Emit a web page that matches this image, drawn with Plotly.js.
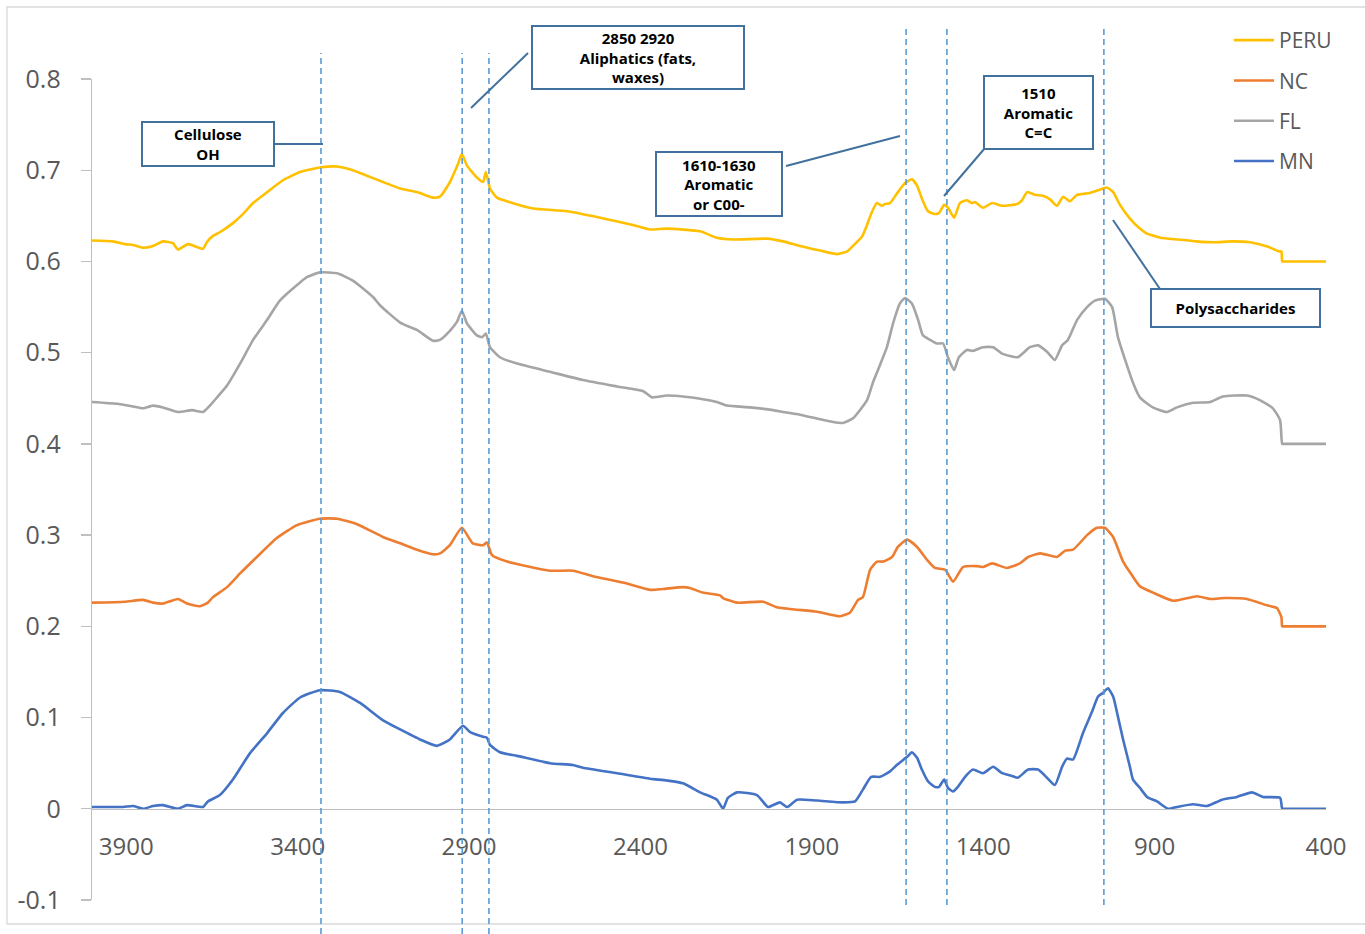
<!DOCTYPE html>
<html>
<head>
<meta charset="utf-8">
<script src="https://cdn.plot.ly/plotly-3.0.1.min.js"></script>
<style>
  html, body { margin: 0; padding: 0; background: #fff; }
  #chart { width: 1365px; height: 934px; }
</style>
</head>
<body>
<div id="chart"></div>
<script>
// FTIR spectra, stacked with vertical offsets (PERU +0.6, FL +0.4, NC +0.2, MN +0)
const peruWn = [4000,3940,3904,3880,3851,3822,3793,3764,3749,3720,3676,3665,3647,3627,3589,3562,3530,3489,3443,3393,3335,3285,3239,3198,3151,3101,3052,3005,2985,2956,2932,2921,2906,2877,2859,2851,2839,2819,2781,2713,2614,2518,2422,2372,2323,2226,2177,2130,2031,1984,1935,1876,1827,1797,1780,1754,1739,1725,1710,1695,1687,1672,1649,1628,1608,1593,1579,1561,1541,1529,1514,1503,1485,1468,1447,1433,1424,1401,1374,1345,1301,1287,1272,1249,1226,1205,1185,1167,1147,1126,1089,1065,1039,1021,1001,972,943,925,884,832,779,727,674,622,569,537,530,528,525,400];
const peruAbs = [0.623,0.622,0.619,0.618,0.615,0.617,0.622,0.620,0.613,0.619,0.614,0.621,0.628,0.632,0.642,0.651,0.664,0.676,0.689,0.698,0.703,0.704,0.700,0.694,0.687,0.680,0.676,0.670,0.671,0.687,0.707,0.718,0.705,0.692,0.687,0.698,0.680,0.670,0.665,0.658,0.655,0.648,0.640,0.635,0.636,0.633,0.626,0.624,0.625,0.622,0.617,0.612,0.608,0.611,0.617,0.627,0.640,0.654,0.664,0.661,0.663,0.664,0.676,0.686,0.690,0.683,0.669,0.655,0.652,0.653,0.662,0.659,0.648,0.664,0.667,0.664,0.665,0.659,0.664,0.661,0.663,0.667,0.676,0.673,0.672,0.668,0.661,0.671,0.666,0.673,0.675,0.678,0.681,0.676,0.662,0.647,0.636,0.631,0.626,0.624,0.622,0.621,0.622,0.621,0.616,0.611,0.611,0.600,0.600,0.600];

const ncWn = [4000,3904,3851,3822,3793,3749,3723,3685,3662,3647,3606,3568,3519,3460,3402,3335,3285,3227,3151,3101,3052,3005,2985,2956,2921,2889,2859,2848,2833,2789,2664,2597,2538,2451,2372,2334,2276,2256,2218,2168,2159,2118,2042,2002,1885,1818,1789,1765,1751,1730,1710,1692,1666,1649,1622,1593,1564,1541,1511,1488,1459,1418,1401,1374,1331,1293,1269,1234,1185,1161,1138,1097,1068,1045,1021,992,966,943,905,846,776,738,695,631,572,543,530,528,525,400];
const ncAbs = [0.226,0.227,0.229,0.226,0.225,0.230,0.225,0.222,0.226,0.232,0.243,0.258,0.276,0.297,0.311,0.318,0.318,0.312,0.298,0.291,0.284,0.279,0.280,0.289,0.308,0.291,0.289,0.292,0.278,0.271,0.261,0.261,0.255,0.248,0.240,0.241,0.243,0.242,0.237,0.234,0.231,0.226,0.227,0.221,0.216,0.211,0.215,0.229,0.232,0.262,0.271,0.271,0.276,0.287,0.295,0.287,0.273,0.264,0.262,0.249,0.265,0.266,0.265,0.269,0.264,0.269,0.276,0.280,0.276,0.283,0.284,0.300,0.308,0.308,0.298,0.271,0.256,0.244,0.237,0.228,0.233,0.230,0.231,0.230,0.223,0.220,0.210,0.200,0.200,0.200];

const flWn = [4000,3927,3880,3851,3822,3793,3749,3708,3676,3656,3635,3606,3568,3530,3489,3452,3393,3372,3335,3285,3239,3180,3160,3101,3072,3052,3005,2985,2956,2935,2921,2906,2877,2862,2851,2839,2810,2760,2664,2568,2468,2393,2366,2323,2276,2218,2177,2148,2080,2013,1984,1935,1838,1809,1780,1739,1722,1707,1681,1663,1643,1628,1608,1590,1576,1555,1535,1517,1503,1485,1471,1447,1430,1401,1371,1345,1299,1264,1240,1214,1191,1170,1153,1126,1097,1074,1045,1024,1007,986,963,943,905,864,835,788,738,701,631,593,555,534,528,525,400];
const flAbs = [0.446,0.444,0.441,0.439,0.442,0.440,0.435,0.437,0.435,0.442,0.451,0.464,0.488,0.514,0.536,0.557,0.577,0.583,0.588,0.587,0.579,0.561,0.552,0.533,0.528,0.525,0.513,0.514,0.524,0.534,0.546,0.532,0.519,0.517,0.521,0.506,0.495,0.488,0.479,0.470,0.463,0.458,0.451,0.453,0.452,0.449,0.446,0.442,0.440,0.437,0.435,0.432,0.424,0.423,0.428,0.448,0.467,0.481,0.506,0.532,0.554,0.560,0.554,0.536,0.519,0.514,0.510,0.510,0.495,0.481,0.495,0.503,0.502,0.506,0.506,0.499,0.495,0.506,0.508,0.501,0.492,0.508,0.514,0.536,0.550,0.557,0.559,0.550,0.517,0.492,0.467,0.451,0.440,0.435,0.440,0.445,0.446,0.452,0.453,0.448,0.439,0.426,0.400,0.400,0.400];

const mnWn = [4000,3910,3880,3851,3822,3793,3749,3723,3676,3662,3627,3589,3539,3489,3443,3393,3335,3277,3218,3151,3101,3043,2994,2956,2918,2897,2859,2848,2839,2810,2760,2664,2597,2568,2468,2372,2323,2276,2226,2177,2159,2145,2118,2060,2028,1993,1972,1943,1885,1809,1774,1751,1727,1701,1672,1652,1622,1608,1593,1579,1561,1541,1529,1514,1503,1488,1474,1453,1430,1401,1371,1345,1316,1299,1269,1240,1214,1191,1170,1156,1138,1109,1083,1065,1051,1036,1021,1007,992,972,963,943,922,893,861,835,788,747,703,660,616,584,534,528,525,400];
const mnAbs = [0.002,0.002,0.003,0.000,0.003,0.004,0.000,0.004,0.002,0.008,0.015,0.032,0.061,0.083,0.105,0.122,0.130,0.128,0.116,0.097,0.087,0.076,0.069,0.076,0.091,0.084,0.079,0.078,0.070,0.062,0.058,0.050,0.048,0.045,0.039,0.033,0.031,0.028,0.018,0.010,0.000,0.012,0.018,0.015,0.002,0.007,0.002,0.010,0.009,0.007,0.008,0.021,0.035,0.035,0.041,0.048,0.057,0.062,0.056,0.043,0.030,0.024,0.024,0.032,0.023,0.019,0.024,0.035,0.043,0.039,0.046,0.039,0.036,0.034,0.043,0.043,0.034,0.026,0.046,0.055,0.054,0.083,0.106,0.123,0.127,0.132,0.123,0.101,0.076,0.046,0.032,0.023,0.013,0.008,0.000,0.002,0.005,0.003,0.010,0.013,0.018,0.013,0.012,0.000,0.000,0.000];

const seriesNames  = ['PERU', 'NC', 'FL', 'MN'];
const seriesColors = ['#FFC000', '#ED7D31', '#A5A5A5', '#4472C4'];
const seriesX = [peruWn, ncWn, flWn, mnWn];
const seriesY = [peruAbs, ncAbs, flAbs, mnAbs];

const xTickVals = [3900, 3400, 2900, 2400, 1900, 1400, 900, 400];
const yTickVals = [-0.1, 0, 0.1, 0.2, 0.3, 0.4, 0.5, 0.6, 0.7, 0.8];
const yTickText = ['-0.1', '0', '0.1', '0.2', '0.3', '0.4', '0.5', '0.6', '0.7', '0.8'];

// band markers (cm-1)
const bandLines = [3332, 2920, 2842, 1625, 1506, 1048];
const bandLabels = ['Cellulose<br>OH', '2850 2920<br>Aliphatics (fats,<br>waxes)', '1610-1630<br>Aromatic<br>or C00-', '1510<br>Aromatic<br>C=C', 'Polysaccharides'];

// ---- geometry helpers (figure pixels -> paper fractions) ----
const W = 1365, H = 934;
const M = { l: 92, r: 39, t: 79, b: 34 };
const PW = W - M.l - M.r, PH = H - M.t - M.b;
const X_RANGE = [4000, 400], Y_RANGE = [-0.1, 0.8];
const px = x => (x - M.l) / PW;
const py = y => (H - M.b - y) / PH;
const wnToPaper = v => (v - X_RANGE[0]) / (X_RANGE[1] - X_RANGE[0]);

const traces = seriesNames.map((name, i) => ({
  type: 'scatter', mode: 'lines', name: name,
  x: seriesX[i], y: seriesY[i],
  legendgroup: name,
  line: { color: seriesColors[i], width: 2.6, shape: 'spline', smoothing: 0.5 },
  hoverinfo: 'x+y+name'
}));

const shapes = [];
// outer chart border
shapes.push({ type: 'rect', xref: 'paper', yref: 'paper', layer: 'below',
  x0: px(7), x1: px(1372), y0: py(924), y1: py(7),
  line: { color: '#D9D9D9', width: 1.3 } });

// dashed band markers
const bandSpans = [[53, 934], [53, 934], [53, 934], [26, 905], [26, 905], [26, 905]];
bandLines.forEach((v, i) => {
  shapes.push({ type: 'line', xref: 'paper', yref: 'paper',
    x0: wnToPaper(v), x1: wnToPaper(v), y0: py(bandSpans[i][1]), y1: py(bandSpans[i][0]),
    line: { color: '#5B9BD5', width: 1.6, dash: '6px,4px' } });
});

// callout boxes [left, top, right, bottom] and their connector lines
const boxes = [
  [142, 122, 274, 166],
  [532, 26, 744, 89],
  [656, 152, 782, 216],
  [984, 76, 1093, 149],
  [1151, 289, 1320, 327]
];
const connectors = [
  [274, 144, 323, 144],
  [528, 53, 471, 108],
  [786, 166, 900, 136],
  [985, 148, 944, 196],
  [1160, 289, 1113, 220]
];
connectors.forEach(c => {
  shapes.push({ type: 'line', xref: 'paper', yref: 'paper',
    x0: px(c[0]), y0: py(c[1]), x1: px(c[2]), y1: py(c[3]),
    line: { color: '#41719C', width: 2 } });
});

const BW = 2;
const annotations = boxes.map((b, i) => ({
  xref: 'paper', yref: 'paper',
  x: px(b[0] - BW / 2), y: py(b[1] - BW / 2),
  xanchor: 'left', yanchor: 'top',
  width: (b[2] - b[0]) - BW, height: (b[3] - b[1]) - BW,
  borderpad: 0, borderwidth: BW, bordercolor: '#41719C', bgcolor: '#FFFFFF',
  showarrow: false, align: 'center', valign: 'middle',
  text: bandLabels[i],
  font: { family: 'Open Sans', size: 15, color: '#000000', weight: 'bold' }
}));

const layout = {
  width: W, height: H,
  margin: M,
  paper_bgcolor: '#FFFFFF', plot_bgcolor: '#FFFFFF',
  font: { family: 'Open Sans', color: '#595959' },
  showlegend: true,
  legend: {
    x: px(1229), xanchor: 'left', y: py(20), yanchor: 'top',
    font: { family: 'Open Sans', size: 21, color: '#595959' },
    bgcolor: 'rgba(0,0,0,0)', tracegroupgap: 10, itemwidth: 40
  },
  xaxis: {
    range: X_RANGE, tickvals: xTickVals, ticktext: xTickVals.map(String),
    showgrid: false, zeroline: false, showline: true,
    linecolor: '#BFBFBF', linewidth: 1.3, ticks: '',
    anchor: 'free', position: (0 - Y_RANGE[0]) / (Y_RANGE[1] - Y_RANGE[0]),
    tickfont: { family: 'Open Sans', size: 24, color: '#595959' },
    ticklabelstandoff: 16
  },
  yaxis: {
    range: Y_RANGE, tickvals: yTickVals, ticktext: yTickText,
    showgrid: false, zeroline: false, showline: true,
    linecolor: '#BFBFBF', linewidth: 1.3,
    ticks: 'outside', ticklen: 10, tickcolor: '#BFBFBF', tickwidth: 1.3,
    tickfont: { family: 'Open Sans', size: 25, color: '#595959' },
    ticklabelstandoff: 15
  },
  shapes: shapes,
  annotations: annotations
};

Plotly.newPlot('chart', traces, layout, { displayModeBar: false, staticPlot: true });
</script>
</body>
</html>
